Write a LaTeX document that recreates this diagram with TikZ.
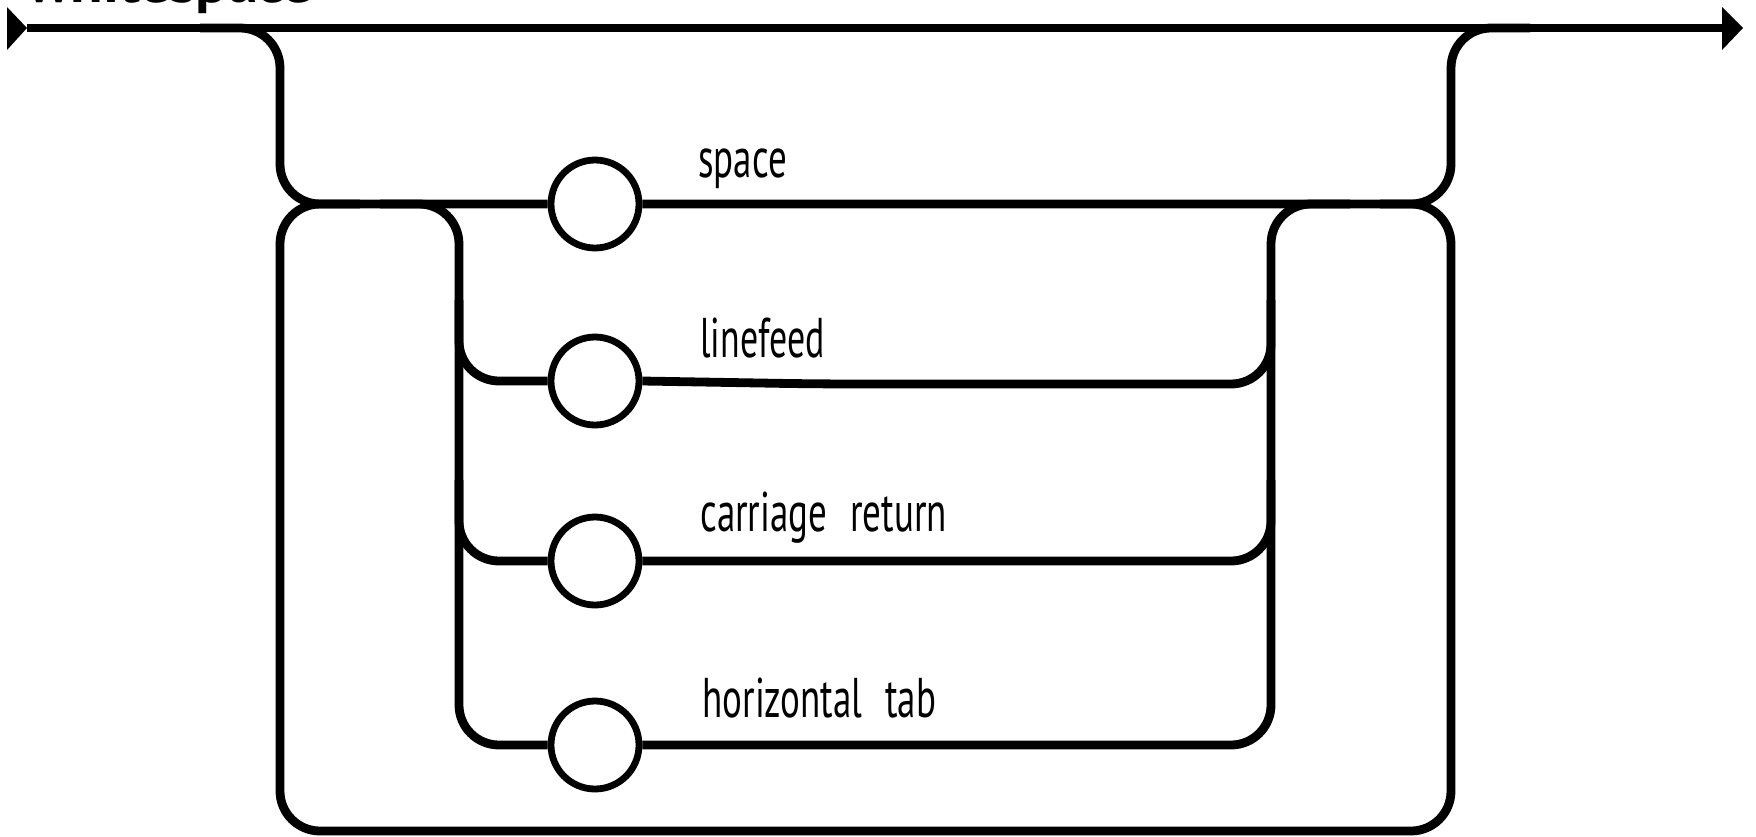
\documentclass[tikz,border=0pt]{standalone}
\usepackage{fontspec}
\setmainfont{PT Sans}
\newcommand\railtext[2][0.66]{\scalebox{#1}[1]{#2}}
\begin{document}
\begin{tikzpicture}[x=0.5pt,y=-0.5pt,
  rail/.style={line width=4.4pt, rounded corners=20pt},
  term/.style={circle, draw, line width=3.4pt, minimum size=44pt, inner sep=0pt, fill=white},
  lbl/.style={anchor=base west, inner sep=0pt, font=\fontsize{28}{28}\selectfont}]
\useasboundingbox (0,0) rectangle (1756,836);

% title, mostly above the top edge
\node[lbl, font=\fontsize{28}{28}\selectfont\bfseries] (title) at (27,2) {\railtext[1.07]{whitespace}};

% entry and exit
\coordinate (entry) at (27,28);
\coordinate (exit) at (1743,28);
\fill (7,7) -- (entry) -- (7,50) -- cycle;
\fill (1722,7) -- (exit) -- (1722,50) -- cycle;
\draw[line width=4.4pt] (entry) -- (1724,28);

% terminals
\node[term] (sp) at (595,204) {};
\node[term] (lf) at (595,381) {};
\node[term] (cr) at (595,561) {};
\node[term] (ht) at (595,745) {};

\node[lbl] (tsp) at (698,177) {\railtext{space}};
\node[lbl] (tlf) at (700,357) {\railtext[0.64]{linefeed}};
\node[lbl] (tcr) at (700,531) {\railtext{carriage\hspace{0.35em} return}};
\node[lbl] (tht) at (702,717) {\railtext{horizontal\hspace{0.35em} tab}};

% optional bypass into the choice
\draw[rail] (200,28) -- (280,28) -- (280,204) -- (sp.west);
\draw[rail] (sp.east) -- (1451,204) -- (1451,28) -- (1530,28);

% repeat loop
\draw[rail] (1380,204) -- (1451,204) -- (1451,831) -- (280,831) -- (280,204) -- (360,204);

% choice: left rail
\draw[rail] (380,204) -- (459,204) -- (459,745) -- (ht.west);
\draw[rail] (459,300) -- (459,381) -- (lf.west);
\draw[rail] (459,480) -- (459,561) -- (cr.west);

% choice: right rail
\draw[rail] (ht.east) -- (1271,745) -- (1271,204) -- (1350,204);
\draw[rail] (lf.east) -- (818,384) -- (1271,384) -- (1271,300);
\draw[rail] (cr.east) -- (1271,561) -- (1271,480);
\end{tikzpicture}
\end{document}
